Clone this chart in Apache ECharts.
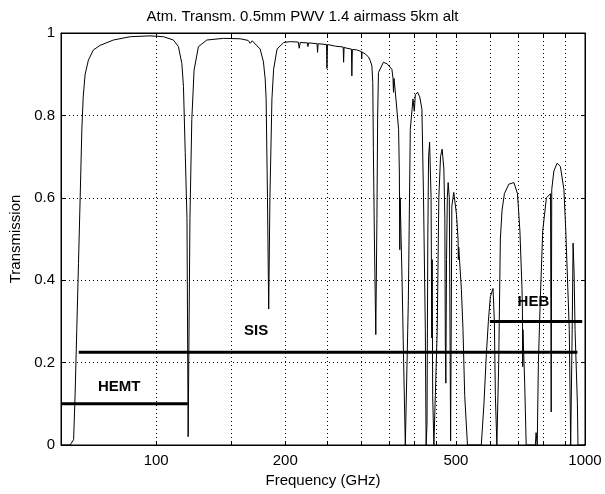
<!DOCTYPE html>
<html>
<head>
<meta charset="utf-8">
<script src="https://cdn.jsdelivr.net/npm/echarts@6.0.0/dist/echarts.min.js"></script>
<style>
html, body { margin: 0; padding: 0; background: #fff; }
#main { width: 605px; height: 494px; }
</style>
</head>
<body>
<div id="main"></div>
<script>
// frequency (GHz) / transmission
var freq_ghz = [
	60, 63.0, 63.6, 64.2, 64.7, 65.3, 65.9, 66.5, 67.1, 67.6, 68.3, 69.5, 71.4, 74.0, 79.5, 87.0, 96.8,
	104.0, 109.7, 112.7, 114.8, 115.8, 116.9, 118.0, 118.75, 119.9, 121.1, 122.6, 125.5, 131.3, 143.6,
	157.0, 163.9, 165.7, 167.5, 174.8, 177.9, 179.6, 180.5, 181.8, 183.0, 184.2, 186.2, 187.9, 191.4,
	198.4, 205.5, 214.5, 215.6, 216.8, 225.3, 225.9, 226.6, 237.3, 237.9, 238.6, 249.6, 250.2, 250.9,
	262.0, 273.0, 273.6, 274.3, 278.6, 285.3, 286.0, 286.8, 293.6, 301.0, 301.5, 302.1, 307.3, 312.7,
	315.7, 318.5, 320.0, 321.0, 322.8, 325.2, 327.2, 328.5, 329.9, 338.8, 345.9, 354.6, 356.7, 357.6,
	358.6, 363.1, 367.6, 369.1, 369.9, 370.7, 374.5, 377.7, 381.1, 384.1, 387.3, 391.4, 397.1, 399.9,
	402.1, 407.1, 411.8, 416.6, 420.2, 424.3, 426.1, 428.1, 430.0, 431.8, 434.2, 437.6, 439.2, 440.2,
	441.4, 444.3, 448.4, 452.3, 456.2, 460.4, 464.4, 468.7, 471.2, 472.4, 473.7, 475.5, 477.5, 479.6,
	482.6, 486.0, 489.2, 494.3, 501.5, 505.8, 506.6, 507.7, 515.0, 519.4, 524.2, 532.0, 573.0, 581.3,
	588.8, 595.2, 601.6, 610.3, 614.7, 618.0, 623.0, 626.4, 629.2, 634.8, 640.6, 648.7, 664.2, 682.8,
	695.9, 705.0, 713.0, 714.8, 715.6, 716.6, 723.4, 729.2, 766.0, 769.0, 773.8, 778.6, 787.0, 797.0,
	812.8, 831.0, 834.0, 836.5, 846.0, 861.0, 876.2, 893.0, 902.0, 919.0, 926.0, 930.0, 934.0, 938.0,
	943.0, 948.0, 960.0, 963.0, 1000
];
var transmission = [
	0, 0, 0.004, 0.013, 0.117, 0.28, 0.44, 0.60, 0.765, 0.845, 0.90, 0.934, 0.959, 0.970, 0.983, 0.991, 0.993,
	0.991, 0.983, 0.967, 0.926, 0.87, 0.71, 0.55, 0.02, 0.55, 0.79, 0.91, 0.967, 0.983, 0.987,
	0.986, 0.982, 0.975, 0.981, 0.961, 0.93, 0.888, 0.84, 0.6, 0.33, 0.6, 0.84, 0.912, 0.961,
	0.977, 0.979, 0.978, 0.963, 0.977, 0.976, 0.967, 0.976, 0.974, 0.953, 0.974, 0.972, 0.914, 0.972,
	0.968, 0.966, 0.929, 0.965, 0.963, 0.961, 0.896, 0.96, 0.959, 0.955, 0.937, 0.954, 0.949, 0.942,
	0.933, 0.92, 0.88, 0.72, 0.50, 0.268, 0.55, 0.80, 0.904, 0.929, 0.925, 0.912, 0.89, 0.856,
	0.89, 0.83, 0.766, 0.66, 0.474, 0.60, 0.40, 0.20, 0.0, 0.0, 0.35, 0.766, 0.84, 0.81,
	0.85, 0.856, 0.845, 0.815, 0.60, 0.28, 0.0, 0.05, 0.50, 0.70, 0.735, 0.60, 0.26, 0.45,
	0.12, 0.0, 0.0, 0.28, 0.60, 0.70, 0.718, 0.67, 0.55, 0.25, 0.15, 0.45, 0.60, 0.637,
	0.60, 0.01, 0.58, 0.613, 0.56, 0.50, 0.45, 0.48, 0.377, 0.28, 0.12, 0.0, 0.0, 0.10,
	0.22, 0.30, 0.36, 0.38, 0.30, 0.12, 0.0, 0.0, 0.20, 0.50, 0.57, 0.61, 0.633, 0.637,
	0.61, 0.52, 0.38, 0.32, 0.19, 0.28, 0.15, 0.0, 0.0, 0.03, 0.0, 0.20, 0.36, 0.52,
	0.60, 0.61, 0.08, 0.62, 0.665, 0.684, 0.676, 0.62, 0.52, 0.28, 0.0, 0.0, 0.30, 0.49,
	0.42, 0.28, 0.10, 0.0, 0
];

// receiver bands
var band_names = ['HEMT', 'SIS', 'HEB'];
var band_low = [60, 66, 600];
var band_high = [118.5, 960, 985];
var band_level = [0.1, 0.225, 0.3];
var band_label_freq = [82, 171, 758];
var band_label_level = [0.141, 0.277, 0.347];

// axis ticks
var x_label_freqs = [100, 200, 500, 1000];
var x_grid_freqs = [100, 150, 200, 250, 300, 350, 400, 450, 500, 600, 700, 800, 900];

var font = 'Liberation Sans, Arial, Helvetica, sans-serif';

var chart = echarts.init(document.getElementById('main'));

var curve = [];
for (var i = 0; i < freq_ghz.length; i++) {
	curve.push([freq_ghz[i], transmission[i]]);
}

var series = [
	{
		name: 'transmission',
		type: 'line',
		xAxisIndex: 0,
		data: curve,
		showSymbol: false,
		symbol: 'none',
		lineStyle: { color: '#000', width: 1 },
		z: 3
	}
];
for (var b = 0; b < band_names.length; b++) {
	series.push({
		name: band_names[b],
		type: 'line',
		xAxisIndex: 0,
		data: [[band_low[b], band_level[b]], [band_high[b], band_level[b]]],
		symbol: 'none',
		lineStyle: { color: '#000', width: 3 },
		z: 4
	});
}
var label_data = [];
for (var k = 0; k < band_names.length; k++) {
	label_data.push([band_label_freq[k], band_label_level[k], band_names[k]]);
}
series.push({
	type: 'scatter',
	xAxisIndex: 0,
	data: label_data,
	symbolSize: 2,
	itemStyle: { color: 'rgba(0,0,0,0)' },
	label: {
		show: true,
		position: 'inside',
		formatter: function (p) { return p.value[2]; },
		color: '#000',
		opacity: 1,
		textBorderWidth: 0,
		fontWeight: 'bold',
		fontSize: 15,
		fontFamily: font
	},
	z: 5
});

var log_ticks = x_grid_freqs.map(function (f) { return Math.log10(f); });

var option = {
	animation: false,
	backgroundColor: '#fff',
	title: {
		text: 'Atm. Transm. 0.5mm PWV 1.4 airmass 5km alt',
		left: 'center',
		top: 4,
		textStyle: { fontSize: 15, fontWeight: 'normal', color: '#000', fontFamily: font }
	},
	grid: {
		left: 61, right: 20, top: 33, bottom: 49,
		show: true, borderColor: '#000', borderWidth: 1
	},
	xAxis: [
		{
			type: 'log',
			logBase: 10,
			min: 60,
			max: 1000,
			show: false
		},
		{
			type: 'value',
			min: Math.log10(60),
			max: 3,
			position: 'bottom',
			axisLine: { show: true, lineStyle: { color: '#000', width: 1 } },
			axisTick: {
				show: true, inside: true, length: 4,
				customValues: log_ticks,
				lineStyle: { color: '#000' }
			},
			axisLabel: {
				customValues: x_label_freqs.map(function (f) { return Math.log10(f); }),
				formatter: function (v) { return String(Math.round(Math.pow(10, v))); },
				color: '#000', fontSize: 15, fontFamily: font, margin: 8
			},
			splitLine: { show: true, lineStyle: { color: '#000', type: [1, 3], width: 1 } },
			name: 'Frequency (GHz)',
			nameLocation: 'middle',
			nameGap: 27,
			nameTextStyle: { color: '#000', fontSize: 15, fontFamily: font }
		},
		{
			type: 'value',
			min: Math.log10(60),
			max: 3,
			position: 'top',
			axisLine: { show: true, lineStyle: { color: '#000', width: 1 } },
			axisTick: {
				show: true, inside: true, length: 4,
				customValues: log_ticks,
				lineStyle: { color: '#000' }
			},
			axisLabel: { show: false },
			splitLine: { show: false }
		}
	],
	yAxis: [
		{
			type: 'value',
			min: 0,
			max: 1,
			interval: 0.2,
			axisLine: { show: true, lineStyle: { color: '#000' } },
			axisTick: { show: true, inside: true, length: 4, lineStyle: { color: '#000' } },
			axisLabel: { color: '#000', fontSize: 15, fontFamily: font, margin: 6 },
			splitLine: { show: true, lineStyle: { color: '#000', type: [1, 3], width: 1 } },
			name: 'Transmission',
			nameLocation: 'middle',
			nameRotate: 90,
			nameGap: 32,
			nameTextStyle: { color: '#000', fontSize: 15, fontFamily: font }
		},
		{
			type: 'value',
			min: 0,
			max: 1,
			interval: 0.2,
			position: 'right',
			axisLine: { show: true, lineStyle: { color: '#000' } },
			axisTick: { show: true, inside: true, length: 4, lineStyle: { color: '#000' } },
			axisLabel: { show: false },
			splitLine: { show: false }
		}
	],
	series: series
};
chart.setOption(option);
</script>
</body>
</html>
